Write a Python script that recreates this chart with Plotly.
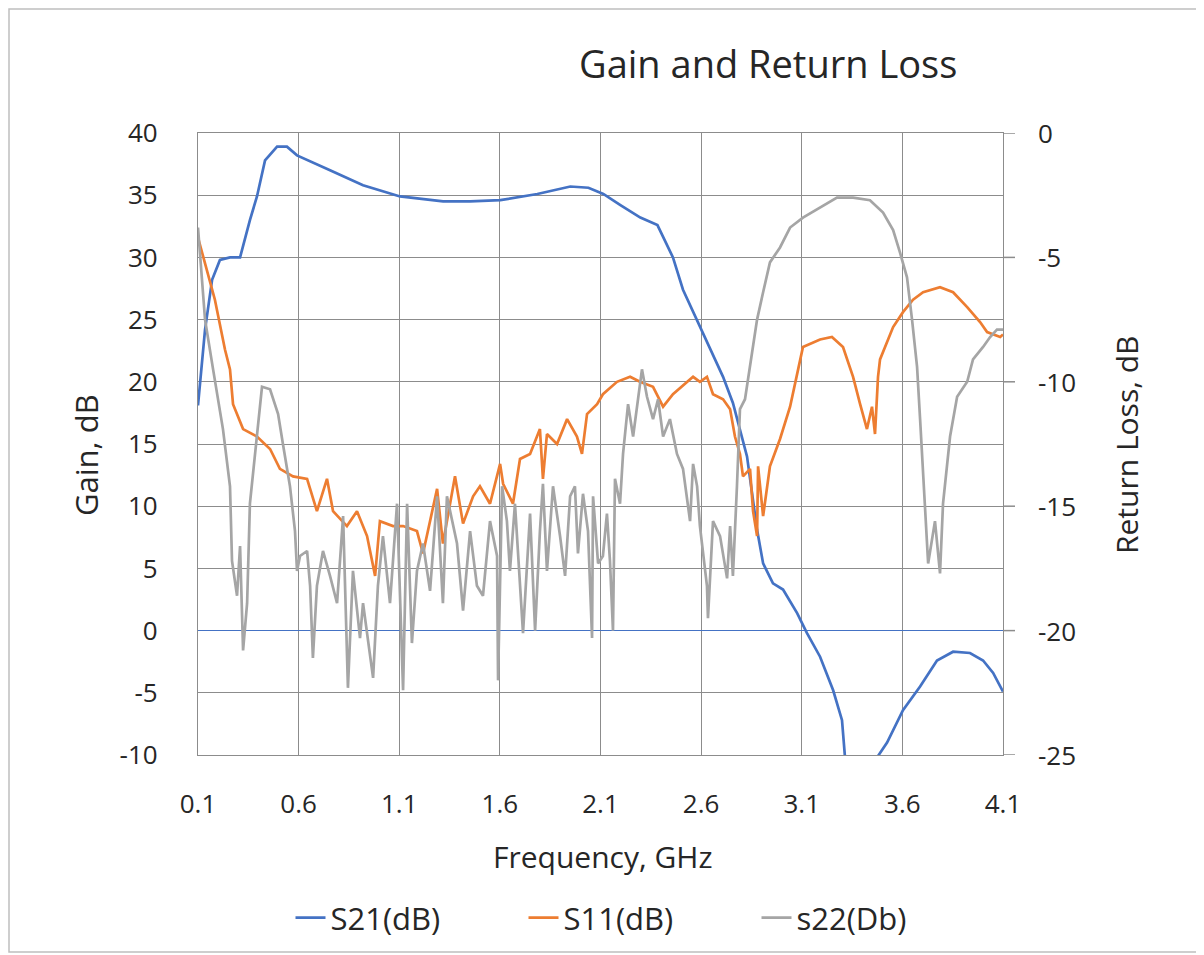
import plotly.graph_objects as go

# ---------------- data ----------------
s21_freq = [0.100, 0.135, 0.170, 0.209, 0.259, 0.309, 0.358, 0.393, 0.433, 0.493,
            0.542, 0.592, 0.756, 0.920, 1.104, 1.318, 1.452, 1.602, 1.786, 1.950,
            2.040, 2.114, 2.199, 2.298, 2.383, 2.460, 2.510, 2.594, 2.709, 2.758,
            2.828, 2.878, 2.908, 2.957, 3.007, 3.077, 3.126, 3.191, 3.256, 3.300,
            3.315, 3.350, 3.400, 3.450, 3.474, 3.524, 3.603, 3.688, 3.772, 3.852,
            3.936, 4.001, 4.051, 4.100]
s21_db = [18.1, 24.2, 28.2, 29.8, 30.0, 30.0, 33.0, 34.9, 37.8, 38.9,
          38.9, 38.2, 37.0, 35.8, 34.9, 34.5, 34.5, 34.6, 35.1, 35.7,
          35.6, 35.1, 34.2, 33.2, 32.6, 30.0, 27.4, 24.4, 20.4, 18.3,
          14.0, 8.1, 5.4, 3.8, 3.3, 1.4, -0.2, -2.1, -4.8, -7.2,
          -10.2, -13.0, -15.0, -12.5, -10.2, -9.0, -6.4, -4.5, -2.4, -1.7,
          -1.8, -2.4, -3.4, -4.9]

s11_freq = [0.100, 0.135, 0.184, 0.234, 0.259, 0.274, 0.324, 0.393, 0.458, 0.507,
            0.572, 0.642, 0.691, 0.741, 0.771, 0.840, 0.890, 0.940, 0.980, 1.004,
            1.069, 1.119, 1.188, 1.218, 1.288, 1.317, 1.377, 1.417, 1.467, 1.501,
            1.551, 1.601, 1.616, 1.665, 1.700, 1.750, 1.799, 1.814, 1.834, 1.884,
            1.934, 1.983, 2.008, 2.033, 2.083, 2.112, 2.182, 2.247, 2.296, 2.361,
            2.411, 2.460, 2.530, 2.560, 2.594, 2.629, 2.659, 2.709, 2.744, 2.768,
            2.793, 2.808, 2.843, 2.858, 2.878, 2.883, 2.908, 2.942, 2.992, 3.042,
            3.082, 3.106, 3.191, 3.250, 3.305, 3.355, 3.390, 3.424, 3.449, 3.464,
            3.479, 3.489, 3.554, 3.603, 3.653, 3.703, 3.787, 3.852, 3.922, 3.986,
            4.021, 4.086, 4.100]
s11_db = [-4.2, -5.2, -6.7, -8.7, -9.5, -10.9, -11.9, -12.2, -12.7, -13.5,
          -13.8, -13.9, -15.2, -13.9, -15.2, -15.8, -15.2, -16.2, -17.8, -15.6,
          -15.8, -15.8, -16.0, -16.9, -14.3, -16.5, -13.8, -15.7, -14.6, -14.2,
          -14.9, -13.3, -14.1, -14.9, -13.1, -12.9, -11.9, -13.9, -12.1, -12.5,
          -11.5, -12.2, -12.9, -11.3, -10.9, -10.5, -10.0, -9.8, -10.0, -10.2,
          -11.0, -10.5, -10.0, -9.8, -10.0, -9.8, -10.5, -10.7, -11.1, -12.2,
          -12.9, -13.8, -13.5, -15.2, -16.2, -13.4, -15.4, -13.4, -12.3, -11.0,
          -9.5, -8.6, -8.3, -8.2, -8.6, -9.8, -10.9, -11.9, -11.0, -12.1,
          -9.8, -9.1, -7.8, -7.2, -6.7, -6.4, -6.2, -6.4, -7.0, -7.6,
          -8.0, -8.2, -8.1]

s22_freq = [0.100, 0.135, 0.175, 0.224, 0.259, 0.269, 0.294, 0.309, 0.324, 0.344,
            0.358, 0.383, 0.418, 0.458, 0.498, 0.522, 0.557, 0.582, 0.592, 0.607,
            0.642, 0.657, 0.671, 0.691, 0.721, 0.756, 0.791, 0.821, 0.845, 0.870,
            0.905, 0.920, 0.970, 0.994, 1.019, 1.054, 1.089, 1.119, 1.139, 1.163,
            1.188, 1.218, 1.253, 1.288, 1.317, 1.337, 1.387, 1.417, 1.452, 1.486,
            1.516, 1.551, 1.586, 1.591, 1.611, 1.635, 1.650, 1.675, 1.700, 1.715,
            1.750, 1.775, 1.799, 1.814, 1.834, 1.864, 1.899, 1.924, 1.949, 1.973,
            1.988, 2.013, 2.038, 2.058, 2.063, 2.088, 2.112, 2.132, 2.147, 2.162,
            2.172, 2.197, 2.212, 2.237, 2.262, 2.306, 2.331, 2.361, 2.386, 2.411,
            2.445, 2.480, 2.510, 2.545, 2.560, 2.580, 2.594, 2.629, 2.634, 2.659,
            2.694, 2.729, 2.744, 2.758, 2.778, 2.793, 2.818, 2.843, 2.878, 2.908,
            2.942, 2.992, 3.042, 3.106, 3.191, 3.275, 3.355, 3.439, 3.504, 3.554,
            3.588, 3.623, 3.648, 3.673, 3.688, 3.703, 3.728, 3.762, 3.787, 3.802,
            3.837, 3.872, 3.922, 3.951, 4.001, 4.036, 4.070, 4.100]
s22_db = [-3.8, -7.5, -9.5, -11.9, -14.2, -17.2, -18.6, -16.6, -20.8, -18.9,
          -14.9, -12.9, -10.2, -10.3, -11.3, -12.5, -14.2, -16.0, -17.6, -17.0,
          -16.8, -18.2, -21.1, -18.2, -16.8, -17.8, -18.9, -15.4, -22.3, -17.6,
          -20.3, -18.9, -21.9, -18.2, -16.2, -18.9, -14.9, -22.4, -14.9, -20.5,
          -17.6, -16.5, -18.4, -14.6, -18.9, -14.6, -16.5, -19.2, -16.0, -18.2,
          -18.6, -15.6, -17.0, -22.0, -14.2, -15.6, -17.6, -14.9, -18.2, -20.1,
          -15.3, -20.0, -16.0, -14.1, -17.6, -14.2, -16.2, -17.8, -14.6, -14.2,
          -16.9, -14.5, -16.0, -20.3, -14.6, -17.3, -17.0, -15.3, -17.2, -20.0,
          -13.9, -14.9, -12.9, -10.9, -12.2, -9.5, -10.6, -11.5, -10.7, -12.2,
          -11.5, -12.9, -13.5, -15.6, -13.3, -14.2, -15.8, -18.2, -19.5, -15.6,
          -16.2, -17.9, -15.8, -17.8, -14.2, -11.1, -10.7, -9.4, -7.5, -6.4,
          -5.2, -4.6, -3.8, -3.4, -3.0, -2.6, -2.6, -2.7, -3.2, -3.9,
          -4.8, -5.8, -7.5, -9.4, -11.5, -13.5, -17.3, -15.6, -17.7, -14.9,
          -12.2, -10.6, -10.0, -9.1, -8.6, -8.2, -7.9, -7.9]

series_names = ["S21(dB)", "S11(dB)", "s22(Db)"]
series_colors = ["#4472C4", "#ED7D31", "#A5A5A5"]

freq_ticks = [0.1, 0.6, 1.1, 1.6, 2.1, 2.6, 3.1, 3.6, 4.1]
freq_ticktext = ["0.1", "0.6", "1.1", "1.6", "2.1", "2.6", "3.1", "3.6", "4.1"]
gain_ticks = [40, 35, 30, 25, 20, 15, 10, 5, 0, -5, -10]
gain_ticktext = ["40", "35", "30", "25", "20", "15", "10", "5", "0", "-5", "-10"]
rl_ticks = [0, -5, -10, -15, -20, -25]
rl_ticktext = ["0", "-5", "-10", "-15", "-20", "-25"]

title_text = "Gain and Return Loss"
x_title = "Frequency, GHz"
y_title = "Gain, dB"
y2_title = "Return Loss, dB"

# ---------------- figure ----------------
FONT = "Open Sans, Lato, DejaVu Sans, sans-serif"
GRID = "#8C8C8C"
TXT = "#262626"

fig = go.Figure()
fig.add_trace(go.Scatter(x=s21_freq, y=s21_db, name=series_names[0], mode="lines",
                         line=dict(color=series_colors[0], width=2.7), yaxis="y"))
fig.add_trace(go.Scatter(x=s11_freq, y=s11_db, name=series_names[1], mode="lines",
                         line=dict(color=series_colors[1], width=2.7), yaxis="y2"))
fig.add_trace(go.Scatter(x=s22_freq, y=s22_db, name=series_names[2], mode="lines",
                         line=dict(color=series_colors[2], width=2.7), yaxis="y2"))

# page is offset by the browser's 8px body margin
OFF = 8
PL, PR, PT, PB = 198, 1003, 133, 755      # plot area in page pixels
W, H = 1196, 947
L, T = PL - OFF, PT - OFF
R = W - L - (PR - PL)
B = H - T - (PB - PT)
pw, ph = PR - PL, PB - PT

def px(xp):
    return (xp - PL) / pw

def py(yp):
    return (PB - yp) / ph

# secondary axis: short outward tick marks and its labels, one per tick value
y2_tick_marks = [
    dict(type="line", xref="x domain", yref="y2", x0=1.0, x1=1.0 + 12 / pw, y0=v, y1=v,
         line=dict(color=GRID, width=1.5), layer="above")
    for v in rl_ticks
]
y2_tick_labels = [
    dict(text=t, xref="paper", yref="y2", x=px(1036), y=v, xanchor="left",
         yanchor="middle", showarrow=False, font=dict(size=26, color=TXT, family=FONT))
    for v, t in zip(rl_ticks, rl_ticktext)
]

fig.update_layout(
    width=W, height=H,
    margin=dict(l=L, r=R, t=T, b=B, pad=0, autoexpand=False),
    paper_bgcolor="white", plot_bgcolor="white",
    font=dict(family=FONT, size=26, color=TXT),
    showlegend=True,
    legend=dict(orientation="h", x=px(640), xanchor="center", y=py(918), yanchor="middle",
                font=dict(size=31, color=TXT), entrywidth=188, entrywidthmode="pixels",
                bgcolor="rgba(0,0,0,0)", traceorder="normal"),
    xaxis=dict(range=[0.1, 4.1], tickvals=freq_ticks, ticktext=freq_ticktext,
               showgrid=True, gridcolor=GRID, gridwidth=1.3,
               showline=True, linecolor=GRID, linewidth=1.3, mirror=True,
               ticks="outside", ticklen=26, tickcolor="rgba(0,0,0,0)", zeroline=False,
               tickfont=dict(size=26, color=TXT)),
    yaxis=dict(range=[-10, 40], tickvals=gain_ticks, ticktext=gain_ticktext,
               showgrid=True, gridcolor=GRID, gridwidth=1.3,
               showline=True, linecolor=GRID, linewidth=1.3, mirror=True,
               ticks="", zeroline=True, zerolinecolor="#4472C4", zerolinewidth=1.2,
               ticklabelstandoff=34, tickfont=dict(size=26, color=TXT)),
    yaxis2=dict(range=[-25, 0], tickvals=rl_ticks, overlaying="y", side="right",
                showgrid=False, zeroline=False, showline=False, ticks="",
                showticklabels=False),
    annotations=[
        dict(text=title_text, xref="paper", yref="paper", x=px(768), y=py(63),
             xanchor="center", yanchor="middle", showarrow=False,
             font=dict(size=38, color=TXT, family=FONT)),
        dict(text=x_title, xref="paper", yref="paper", x=px(603), y=py(856),
             xanchor="center", yanchor="middle", showarrow=False,
             font=dict(size=30, color=TXT, family=FONT)),
        dict(text=y_title, xref="paper", yref="paper", x=px(86), y=py(455),
             xanchor="center", yanchor="middle", showarrow=False, textangle=-90,
             font=dict(size=31, color=TXT, family=FONT)),
        dict(text=y2_title, xref="paper", yref="paper", x=px(1126), y=py(445),
             xanchor="center", yanchor="middle", showarrow=False, textangle=-90,
             font=dict(size=30, color=TXT, family=FONT)),
    ] + y2_tick_labels,
    shapes=[
        dict(type="rect", xref="paper", yref="paper", x0=px(9), x1=px(1201),
             y0=py(952), y1=py(9), line=dict(color="#BFBFBF", width=1.5),
             fillcolor="rgba(0,0,0,0)", layer="below"),
    ] + y2_tick_marks,
)

fig.write_html("out.html")
